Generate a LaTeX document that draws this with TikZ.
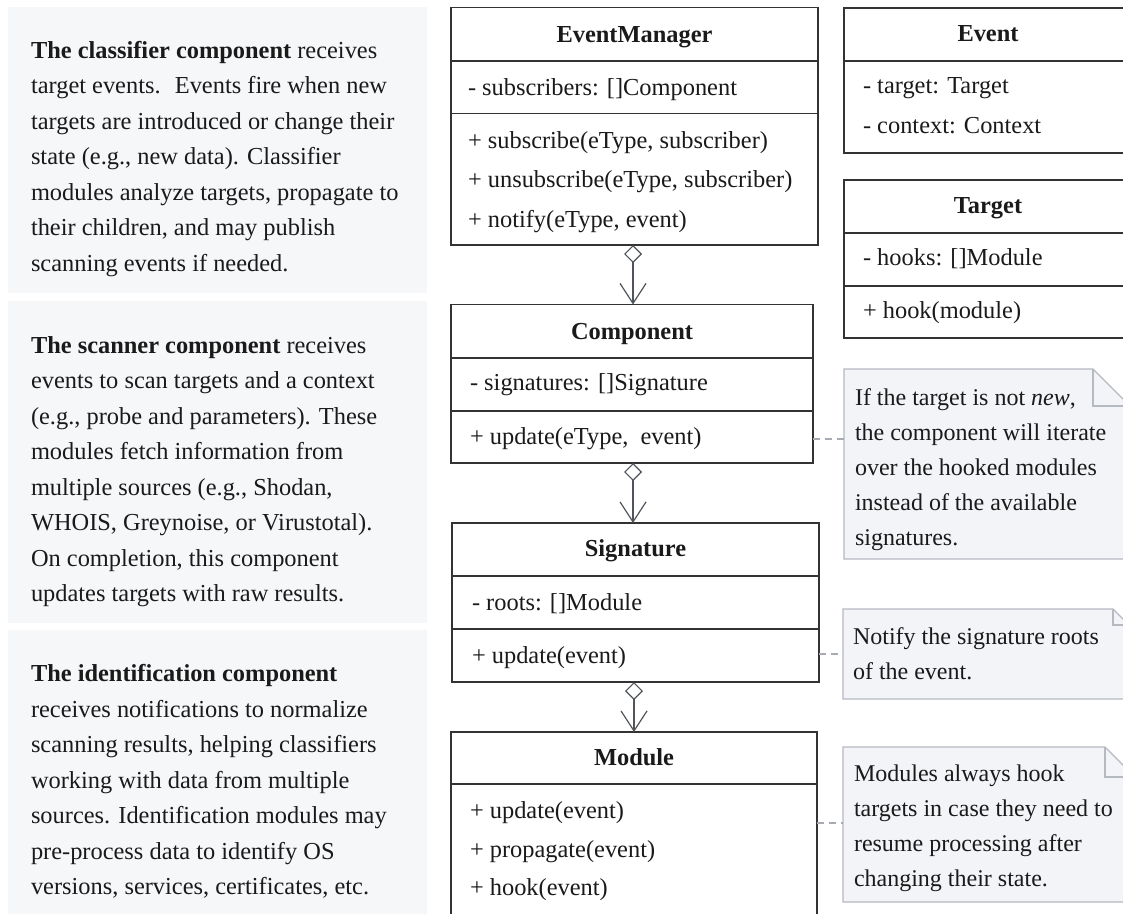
\documentclass[tikz,border=0pt]{standalone}
\usepackage{fontspec}
\setmainfont{Liberation Serif}
\usetikzlibrary{arrows.meta}

\definecolor{panelbg}{HTML}{F6F7F9}
\definecolor{notebg}{HTML}{F3F4F7}
\definecolor{noteline}{HTML}{B5B9C0}
\definecolor{boxline}{HTML}{333333}
\definecolor{linkgray}{HTML}{50555C}
\definecolor{dashgray}{HTML}{A8ACB2}
\definecolor{ink}{HTML}{1A1A1A}

\tikzset{
  every node/.style={inner sep=0pt, outer sep=0pt, text=ink},
  body/.style={font=\fontsize{24.4}{35.5}\selectfont},
  notefont/.style={font=\fontsize{24}{35}\selectfont},
  panel/.style={fill=panelbg, draw=none, anchor=north west},
  classbox/.style={draw=boxline, line width=1.4pt, fill=white},
  sepline/.style={draw=boxline, line width=1.4pt},
  ctitle/.style={font=\fontsize{24.4}{29}\selectfont\bfseries, anchor=base},
  centry/.style={font=\fontsize{24.4}{29}\selectfont, anchor=base west},
  agg/.style={draw=linkgray, line width=1.2pt,
    {Diamond[open,length=18pt,width=18pt]}-{Straight Barb[length=20pt,width=26pt]}},
  notelink/.style={draw=dashgray, line width=1.2pt, dash pattern=on 7pt off 5pt},
  noteshape/.style={fill=notebg, draw=noteline, line width=1.2pt, line join=miter},
  notebox/.style={anchor=north west, draw=none},
  paratext/.style={body, anchor=base west},
  notetext/.style={notefont, anchor=base west},
}

% note with a folded top-right corner, drawn on a named node
\newcommand{\foldednote}[2]{%
  \path[noteshape] (#1.south west) -- (#1.north west)
    -- ([xshift=-#2pt]#1.north east) -- ([yshift=-#2pt]#1.north east)
    -- (#1.south east) -- cycle;
  \draw[noteshape, fill=none] ([xshift=-#2pt]#1.north east)
    -- ([xshift=-#2pt,yshift=-#2pt]#1.north east) -- ([yshift=-#2pt]#1.north east);
}

\begin{document}
\begin{tikzpicture}[x=1pt, y=-1pt]
\useasboundingbox (0,0) rectangle (1123,913);
\clip (0,0) rectangle (1123,913);

% ---------- description panels ----------
\node[panel, minimum width=419pt, minimum height=286pt] (panel1) at (8,7) {};
\node[panel, minimum width=419pt, minimum height=322.5pt] (panel2) at (8,300.5) {};
\node[panel, minimum width=419pt, minimum height=300pt] (panel3) at (8,630) {};

\node[paratext] (p1text) at (31,58.3) {\parbox[t]{420pt}{\raggedright
  \textbf{The classifier component} receives\\
  target events.~ Events fire when new\\
  targets are introduced or change their\\
  state (e.g., new data). Classifier\\
  modules analyze targets, propagate to\\
  their children, and may publish\\
  scanning events if needed.}};

\node[paratext] (p2text) at (31,353.3) {\parbox[t]{420pt}{\raggedright
  \textbf{The scanner component} receives\\
  events to scan targets and a context\\
  (e.g., probe and parameters). These\\
  modules fetch information from\\
  multiple sources (e.g., Shodan,\\
  WHOIS, Greynoise, or Virustotal).\\
  On completion, this component\\
  updates targets with raw results.}};

\node[paratext] (p3text) at (31,681.7) {\parbox[t]{420pt}{\raggedright
  \textbf{The identification component}\\
  receives notifications to normalize\\
  scanning results, helping classifiers\\
  working with data from multiple\\
  sources. Identification modules may\\
  pre-process data to identify OS\\
  versions, services, certificates, etc.}};

% ---------- classes ----------
% EventManager
\node[classbox, minimum width=367pt, minimum height=237.5pt] (em) at (634.5,126.25) {};
\draw[sepline] (451,61) -- (818,61);
\draw[sepline] (451,113.5) -- (818,113.5);
\node[ctitle] (emt) at (634.5,42.7) {EventManager};
\node[centry] (ema1) at (468,95) {- subscribers: []Component};
\node[centry] (emm1) at (468,148) {+ subscribe(eType, subscriber)};
\node[centry] (emm2) at (468,187.5) {+ unsubscribe(eType, subscriber)};
\node[centry] (emm3) at (468,227) {+ notify(eType, event)};

% Component
\node[classbox, minimum width=362pt, minimum height=158.5pt] (comp) at (632,383.75) {};
\draw[sepline] (451,358) -- (813,358);
\draw[sepline] (451,411) -- (813,411);
\node[ctitle] (compt) at (632,339.3) {Component};
\node[centry] (compa1) at (470,390.7) {- signatures: []Signature};
\node[centry] (compm1) at (470,444) {+ update(eType,~ event)};

% Signature
\node[classbox, minimum width=367pt, minimum height=159pt] (sig) at (635.5,602.5) {};
\draw[sepline] (452,576) -- (819,576);
\draw[sepline] (452,629) -- (819,629);
\node[ctitle] (sigt) at (635.5,556.7) {Signature};
\node[centry] (siga1) at (472,610) {- roots: []Module};
\node[centry] (sigm1) at (472,663) {+ update(event)};

% Module
\node[classbox, minimum width=366pt, minimum height=208pt] (mod) at (634,836) {};
\draw[sepline] (451,784) -- (817,784);
\node[ctitle] (modt) at (634,765) {Module};
\node[centry] (modm1) at (470,818.3) {+ update(event)};
\node[centry] (modm2) at (470,857.3) {+ propagate(event)};
\node[centry] (modm3) at (470,895.5) {+ hook(event)};

% Event
\node[classbox, minimum width=288pt, minimum height=145pt] (ev) at (988,80.5) {};
\draw[sepline] (844,61) -- (1132,61);
\node[ctitle] (evt) at (988,41.7) {Event};
\node[centry] (eva1) at (863,93.3) {- target: Target};
\node[centry] (eva2) at (863,133.3) {- context: Context};

% Target
\node[classbox, minimum width=288pt, minimum height=158pt] (tg) at (988,259) {};
\draw[sepline] (844,233) -- (1132,233);
\draw[sepline] (844,286) -- (1132,286);
\node[ctitle] (tgt) at (988,213.3) {Target};
\node[centry] (tga1) at (863,265) {- hooks: []Module};
\node[centry] (tgm1) at (863,318.3) {+ hook(module)};

% ---------- aggregation links ----------
\coordinate (x1) at (633,0);
\coordinate (x2) at (633,0);
\coordinate (x3) at (634,0);
\draw[agg] (x1 |- em.south) -- (x1 |- comp.north);
\draw[agg] (x2 |- comp.south) -- (x2 |- sig.north);
\draw[agg] (x3 |- sig.south) -- (x3 |- mod.north);

% ---------- notes ----------
\node[notebox, minimum width=286pt, minimum height=190pt] (note1) at (844,369) {};
\foldednote{note1}{37}
\node[notetext] (n1text) at (855,405) {\parbox[t]{280pt}{\raggedright
  If the target is not \textit{new},\\
  the component will iterate\\
  over the hooked modules\\
  instead of the available\\
  signatures.}};

\node[notebox, minimum width=286pt, minimum height=90pt] (note2) at (843,609) {};
\foldednote{note2}{16}
\node[notetext] (n2text) at (853,644.3) {\parbox[t]{280pt}{\raggedright
  Notify the signature roots\\
  of the event.}};

\node[notebox, minimum width=292pt, minimum height=155pt] (note3) at (843,747) {};
\foldednote{note3}{30}
\node[notetext] (n3text) at (854,781.7) {\parbox[t]{280pt}{\raggedright
  Modules always hook\\
  targets in case they need to\\
  resume processing after\\
  changing their state.}};

% ---------- note links ----------
\coordinate (y1) at (0,439);
\coordinate (y2) at (0,654);
\coordinate (y3) at (0,823);
\draw[notelink] (comp.east |- y1) -- (note1.west |- y1);
\draw[notelink] (sig.east |- y2) -- (note2.west |- y2);
\draw[notelink] (mod.east |- y3) -- (note3.west |- y3);
\end{tikzpicture}
\end{document}
